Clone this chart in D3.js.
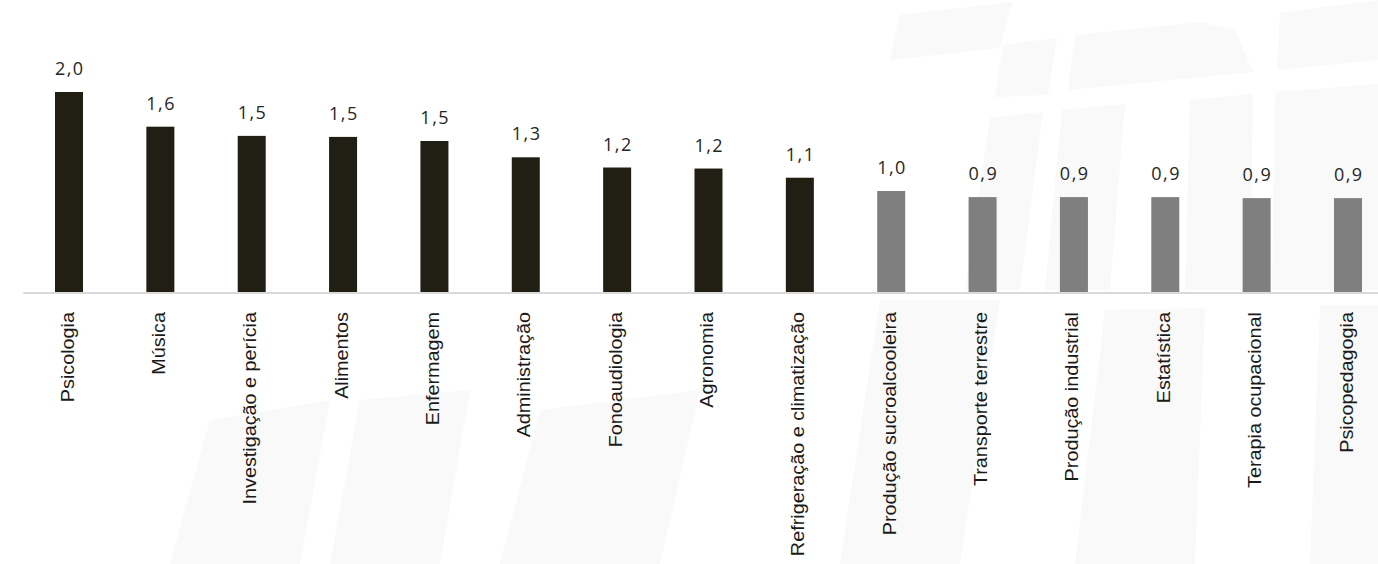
<!DOCTYPE html>
<html>
<head>
<meta charset="utf-8">
<script src="https://cdn.jsdelivr.net/npm/d3@7"></script>
<style>
  body { margin: 0; background: #fff; }
  svg { display: block; }
</style>
</head>
<body>
<svg width="1378" height="564"></svg>
<script>
// data
const categories = [
  "Psicologia", "Música", "Investigação e perícia", "Alimentos", "Enfermagem",
  "Administração", "Fonoaudiologia", "Agronomia", "Refrigeração e climatização",
  "Produção sucroalcooleira", "Transporte terrestre", "Produção industrial",
  "Estatística", "Terapia ocupacional", "Psicopedagogia"
];
const values = [1.96, 1.62, 1.53, 1.52, 1.48, 1.32, 1.22, 1.21, 1.12, 0.99, 0.93, 0.93, 0.93, 0.92, 0.92];
// first 9 highlighted, rest gray
const highlighted = [1, 1, 1, 1, 1, 1, 1, 1, 1, 0, 0, 0, 0, 0, 0];

const svg = d3.select("svg");
const width = +svg.attr("width");
const baseline = 292;

// faint watermark in the background
const watermark = [
  [[900, 15], [1012, 2], [1000, 48], [890, 60]],
  [[1003, 45], [1057, 38], [1048, 95], [995, 97]],
  [[1075, 35], [1200, 22], [1235, 30], [1253, 72], [1068, 90]],
  [[1280, 13], [1378, 0], [1378, 60], [1277, 70]],
  [[990, 118], [1043, 112], [1020, 290], [965, 290]],
  [[1062, 110], [1125, 104], [1110, 290], [1045, 290]],
  [[1190, 100], [1253, 94], [1250, 290], [1185, 290]],
  [[1275, 92], [1378, 84], [1378, 290], [1272, 290]],
  [[1105, 310], [1205, 308], [1195, 564], [1075, 564]],
  [[1320, 305], [1378, 305], [1378, 564], [1310, 564]],
  [[210, 420], [330, 400], [300, 564], [170, 564]],
  [[360, 400], [470, 390], [440, 564], [330, 564]],
  [[540, 410], [700, 390], [660, 564], [500, 564]],
  [[880, 300], [1000, 300], [960, 564], [840, 564]]
];
svg.append("g")
  .selectAll("polygon")
  .data(watermark)
  .enter()
  .append("polygon")
  .attr("points", d => d.map(p => p.join(",")).join(" "))
  .attr("fill", "#f9f9f9");

const x = d3.scaleBand()
  .domain(categories)
  .range([23.3, 1393.7])
  .paddingInner(0.6935)
  .paddingOuter(0.347);

const y = d3.scaleLinear()
  .domain([0, 1.96])
  .range([baseline, 92]);

const fmt = v => d3.format(".1f")(v).replace(".", ",");

// bars
svg.append("g")
  .selectAll("rect")
  .data(categories)
  .enter()
  .append("rect")
  .attr("x", d => x(d))
  .attr("width", x.bandwidth())
  .attr("y", (d, i) => y(values[i]))
  .attr("height", (d, i) => y(0) - y(values[i]))
  .attr("fill", (d, i) => highlighted[i] ? "#211e14" : "#7f7f7f");

// axis line
svg.append("line")
  .attr("x1", x.range()[0])
  .attr("x2", width)
  .attr("y1", y(0) + 1)
  .attr("y2", y(0) + 1)
  .attr("stroke", "#d9d9d9")
  .attr("stroke-width", 2);

// value labels
svg.append("g")
  .selectAll("text")
  .data(categories)
  .enter()
  .append("text")
  .attr("x", d => x(d) + x.bandwidth() / 2 + 0.8)
  .attr("y", (d, i) => y(values[i]) - 17)
  .attr("text-anchor", "middle")
  .style("font-family", "'Open Sans', sans-serif")
  .style("font-size", "18px")
  .style("letter-spacing", "1.5px")
  .style("fill", "#262626")
  .text((d, i) => fmt(values[i]));

// category labels
svg.append("g")
  .selectAll("text")
  .data(categories)
  .enter()
  .append("text")
  .attr("transform", d => "translate(" + (x(d) + x.bandwidth() / 2) + "," + 312 + ") rotate(-90) scale(1.1,1)")
  .attr("text-anchor", "end")
  .attr("dy", "0.25em")
  .style("font-family", "'Liberation Sans', Arial, sans-serif")
  .style("font-size", "18px")
  .style("fill", "#1a1a1a")
  .text(d => d);
</script>
</body>
</html>
